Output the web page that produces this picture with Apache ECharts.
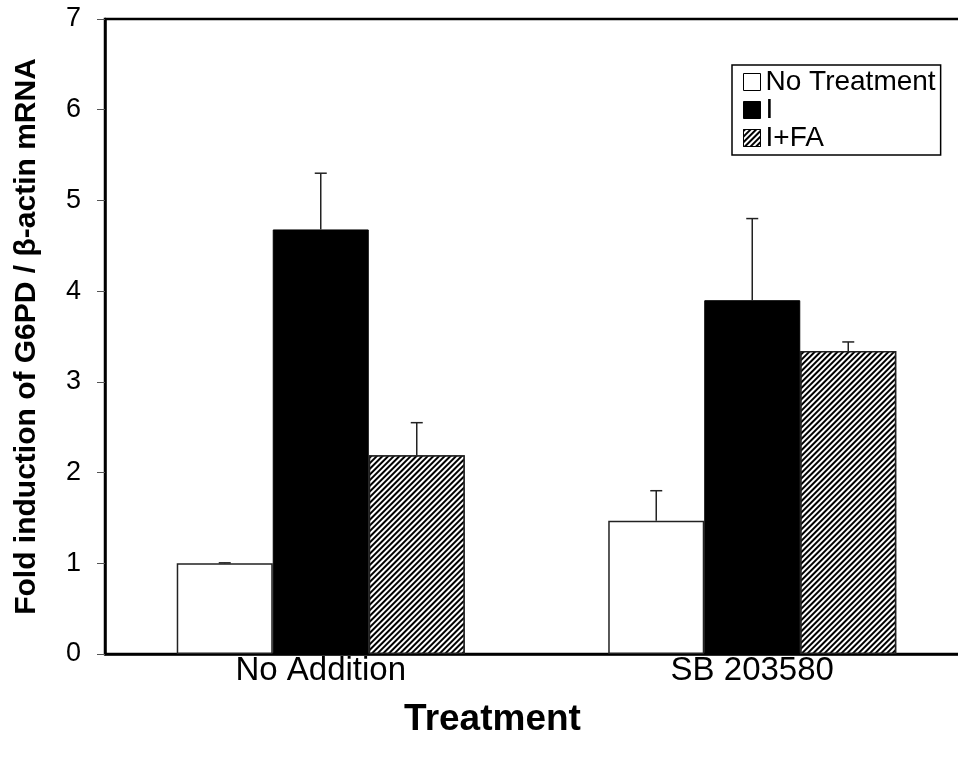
<!DOCTYPE html>
<html>
<head>
<meta charset="utf-8">
<script src="https://cdn.jsdelivr.net/npm/echarts@6/dist/echarts.min.js"></script>
<style>html,body{margin:0;padding:0;background:#fff}#c{width:958px;height:763px}</style>
</head>
<body>
<div id="c"></div>
<script>
var categories = ['No Addition', 'SB 203580'];
var seriesNames = ['No Treatment', 'I', 'I+FA'];
var noTreatment = [1.0, 1.47];
var iValues = [4.68, 3.9];
var ifaValues = [2.19, 3.34];
var noTreatmentErr = [0.005, 0.33];
var iErr = [0.62, 0.9];
var ifaErr = [0.36, 0.1];
var yTicks = [0, 1, 2, 3, 4, 5, 6, 7];

var FONT = '"Liberation Sans", Arial, sans-serif';
var BAR_FRAC = 0.2225;
var values = [noTreatment, iValues, ifaValues];
var errs = [noTreatmentErr, iErr, ifaErr];
var errData = [];
for (var s = 0; s < 3; s++) {
  for (var c = 0; c < categories.length; c++) {
    errData.push([c, values[s][c], errs[s][c], s]);
  }
}
var hatch = {
  symbol: 'rect',
  symbolSize: 1,
  dashArrayX: [[1, 0]],
  dashArrayY: [1.5, 1.5],
  rotation: -Math.PI / 4,
  color: '#000',
  backgroundColor: '#fff'
};

var chart = echarts.init(document.getElementById('c'));
chart.setOption({
  animation: false,
  backgroundColor: '#fff',
  textStyle: { fontFamily: FONT },
  grid: {
    left: 105, top: 19, bottom: 109, width: 863,
    outerBoundsMode: 'none', containLabel: false,
    show: true, borderColor: '#000', borderWidth: 2.5, backgroundColor: 'transparent'
  },
  legend: {
    data: seriesNames,
    orient: 'vertical',
    left: 732, top: 65,
    icon: 'rect',
    itemWidth: 17, itemHeight: 17, itemGap: 0,
    borderColor: '#000', borderWidth: 1.5,
    padding: [3, 5, 3, 11],
    textStyle: { fontSize: 28, lineHeight: 24, color: '#000', fontFamily: FONT },
    itemStyle: { borderColor: '#000', borderWidth: 1 }
  },
  xAxis: {
    type: 'category',
    data: categories,
    axisLine: { lineStyle: { color: '#000', width: 2.5 } },
    axisTick: { show: false },
    axisLabel: { fontSize: 33, color: '#000', margin: 0, fontFamily: FONT },
    name: 'Treatment',
    nameLocation: 'middle',
    nameGap: 47,
    nameTextStyle: { fontSize: 37, fontWeight: 'bold', color: '#000', fontFamily: FONT, padding: [0, 88, 0, 0] }
  },
  yAxis: {
    type: 'value',
    min: yTicks[0], max: yTicks[yTicks.length - 1], interval: 1,
    axisLine: { show: true, lineStyle: { color: '#000', width: 2.5 } },
    axisTick: { show: true, length: 8, lineStyle: { color: '#555', width: 1 } },
    splitLine: { show: false },
    axisLabel: { fontSize: 27, color: '#000', margin: 24, fontFamily: FONT },
    name: 'Fold induction of G6PD / β-actin mRNA',
    nameLocation: 'middle',
    nameGap: 63,
    nameTextStyle: { fontSize: 30, fontWeight: 'bold', color: '#000', fontFamily: FONT }
  },
  series: [
    {
      name: seriesNames[0], type: 'bar', data: noTreatment,
      barWidth: (BAR_FRAC * 100) + '%', barGap: '0%',
      itemStyle: { color: '#fff', borderColor: '#222', borderWidth: 1.5 }
    },
    {
      name: seriesNames[1], type: 'bar', data: iValues,
      barWidth: (BAR_FRAC * 100) + '%', barGap: '0%',
      itemStyle: { color: '#000', borderColor: '#000', borderWidth: 1 }
    },
    {
      name: seriesNames[2], type: 'bar', data: ifaValues,
      barWidth: (BAR_FRAC * 100) + '%', barGap: '0%',
      itemStyle: { color: '#fff', decal: hatch, borderColor: '#222', borderWidth: 1.5 }
    },
    {
      type: 'custom',
      data: errData,
      z: 10,
      renderItem: function (params, api) {
        var cat = api.value(0), v = api.value(1), e = api.value(2), s = api.value(3);
        var bw = api.size([1, 0])[0] * BAR_FRAC;
        var p0 = api.coord([cat, v]);
        var p1 = api.coord([cat, v + e]);
        var x = p0[0] + (s - 1) * bw;
        var st = { stroke: '#222', lineWidth: 1.5 };
        return {
          type: 'group',
          children: [
            { type: 'line', shape: { x1: x, y1: p0[1], x2: x, y2: p1[1] }, style: st },
            { type: 'line', shape: { x1: x - 6, y1: p1[1], x2: x + 6, y2: p1[1] }, style: st }
          ]
        };
      }
    }
  ]
});
</script>
</body>
</html>
